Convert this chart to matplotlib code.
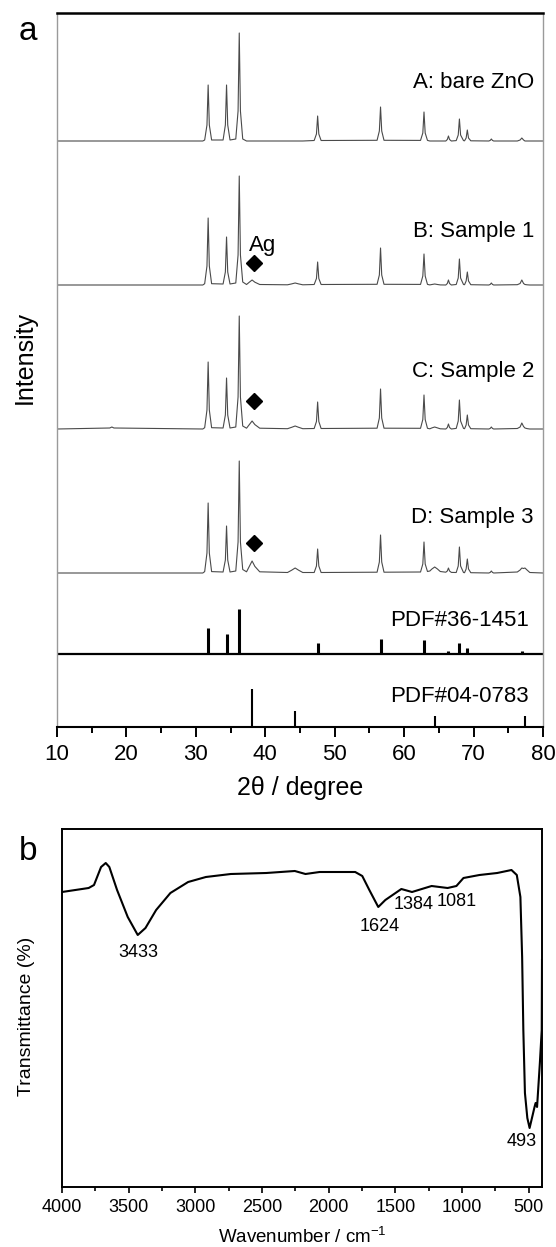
import matplotlib
matplotlib.use("Agg")
import matplotlib.pyplot as plt
import numpy as np

plt.rcParams['font.family'] = ['Liberation Sans', 'DejaVu Sans']
plt.rcParams['mathtext.fontset'] = 'custom'
plt.rcParams['mathtext.rm'] = 'Liberation Sans'
plt.rcParams['mathtext.default'] = 'regular'

# ---------------- data: XRD (panel a) ----------------
two_theta = [10.0, 17.6, 17.9, 18.2, 31.0,
             31.27, 31.6, 31.77, 31.94, 32.27,
             33.92, 34.25, 34.42, 34.59, 34.92,
             35.75, 36.08, 36.25, 36.42, 36.75,
             37.3, 37.7, 38.1, 38.5, 39.2,
             43.2, 43.8, 44.3, 44.8, 45.4,
             47.04, 47.37, 47.54, 47.71, 48.04,
             56.1, 56.43, 56.6, 56.77, 57.1,
             62.36, 62.69, 62.86, 63.03, 63.36,
             63.7, 64.0, 64.4, 64.8, 65.2,
             66.0, 66.22, 66.38, 66.54, 66.8,
             67.5, 67.79, 67.96, 68.13, 68.55,
             68.7, 68.93, 69.1, 69.27, 69.6,
             72.2, 72.4, 72.56, 72.72, 72.9,
             76.3, 76.7, 76.95, 77.2, 77.4, 77.7, 78.1,
             80.0]

int_A = [0, 0, 0, 0, 0,
         1, 16, 56, 16, 1,
         1, 16, 56, 16, 1,
         2, 30, 108, 30, 2,
         0, 0, 0, 0, 0,
         0, 0, 0, 0, 0,
         0.5, 7, 25, 7, 0.5,
         0.7, 10, 34, 10, 0.7,
         0.6, 8, 29, 8, 0.6,
         0, 0, 0, 0, 0,
         0, 1.5, 5, 1.5, 0,
         0.4, 6, 22, 6, 0.4,
         0.2, 3, 11, 3, 0.2,
         0, 0.6, 2, 0.6, 0,
         0, 1, 3, 1, 0, 0, 0,
         0]

int_B = [0, 0, 0, 0, 0,
         1.3, 19, 67, 19, 1.3,
         1, 13, 48, 13, 1,
         2, 30, 109, 30, 3,
         0.5, 2.8, 5, 2.8, 0.5,
         0.2, 1.1, 2, 1.1, 0.2,
         0.5, 6.5, 23, 6.5, 0.5,
         0.7, 10, 37, 10, 0.7,
         0.6, 9, 31, 9, 0.6,
         0.1, 0.5, 1, 0.5, 0.1,
         0, 1.5, 5, 1.5, 0,
         0.5, 7, 26, 7, 0.5,
         0.3, 4, 13, 4, 0.3,
         0, 0.6, 2, 0.6, 0,
         0.3, 1.5, 5, 1.5, 0.5, 0.2, 0,
         0]

int_C = [0, 1, 2, 1, 0,
         1.3, 19, 67, 19, 1.3,
         1, 14, 51, 14, 1,
         2, 32, 113, 32, 3,
         0.8, 4.4, 8, 4.4, 0.8,
         0.3, 1.7, 3, 1.7, 0.3,
         0.5, 7.5, 27, 7.5, 0.5,
         0.8, 11, 40, 11, 0.8,
         0.7, 9.5, 34, 9.5, 0.7,
         0.2, 1.1, 2, 1.1, 0.2,
         0, 1.5, 5, 1.5, 0,
         0.6, 8, 29, 8, 0.6,
         0.3, 4, 14, 4, 0.3,
         0, 0.6, 2, 0.6, 0,
         0.5, 2, 6, 2.5, 1, 0.4, 0,
         0]

int_D = [0, 0, 0, 0, 0,
         1.4, 20, 70, 20, 1.4,
         1, 13, 47, 13, 1,
         2, 31, 112, 31, 3.5,
         1.2, 6.6, 12, 6.6, 1.2,
         0.5, 2.8, 5, 2.8, 0.5,
         0.5, 7, 24, 7, 0.5,
         0.8, 11, 38, 11, 0.8,
         1, 9, 31, 9, 1.5,
         2, 4, 6, 4, 1.5,
         0.8, 2, 5, 2, 0.6,
         0.5, 7, 26, 7, 0.5,
         0.3, 4, 14, 4, 0.3,
         0, 0.6, 2, 0.6, 0,
         1, 3, 5, 4.5, 5, 3, 0.5,
         0]

sample_labels = ["A: bare ZnO", "B: Sample 1", "C: Sample 2", "D: Sample 3"]

# reference patterns (stick lines)
pdf_zno_pos = [31.77, 34.42, 36.25, 47.54, 56.60, 62.86, 66.38, 67.96, 69.10, 72.56, 76.95]
pdf_zno_int = [26, 20, 45, 11, 15, 14, 3, 11, 6, 1, 3]
pdf_ag_pos = [38.12, 44.30, 64.44, 77.40]
pdf_ag_int = [38, 16, 11, 11]
pdf_labels = ["PDF#36-1451", "PDF#04-0783"]

ag_marker_2theta = 38.4

# ---------------- data: FTIR (panel b) ----------------
wavenumber = [4000, 3900, 3800, 3760, 3707, 3672, 3645, 3587, 3507, 3432, 3374,
              3294, 3187, 3054, 2921, 2734, 2468, 2254, 2174, 2068, 1801, 1748,
              1695, 1628, 1575, 1455, 1375, 1228, 1108, 1042, 989, 869, 736,
              629, 589, 562, 549, 540, 528, 510, 493, 470, 456, 448, 437, 416,
              402, 400]
transmittance = [295, 297, 299, 302, 320, 324, 320, 297, 270, 252, 259,
                 277, 294, 305, 310, 313, 314, 316, 313, 315, 315, 311,
                 297, 280, 287, 298, 295, 301, 299, 301, 309, 312, 314,
                 317, 312, 290, 230, 157, 94, 69, 59, 72, 80, 84, 80, 124,
                 157, 227]
ftir_peak_labels = ["3433", "1624", "1384", "1081", "493"]
ftir_peak_wn = [3427, 1615, 1362, 1042, 549]
ftir_peak_val = [234, 260, 282, 285, 45]

# ---------------- layout / style ----------------
W, H = 556, 1247
fig = plt.figure(figsize=(W / 100, H / 100), dpi=100)

offsets = [586, 442, 298, 154]
pdf_zno_base = 73
label_y = [644, 495, 355, 209]
marker_dy = [22, 28, 30]

ax = fig.add_axes([57 / W, 1 - 727 / H, 486 / W, 714 / H])
ax.set_xlim(10, 80)
ax.set_ylim(0, 714)

tt = np.array(two_theta)
for ints, off, lab, ly in zip([int_A, int_B, int_C, int_D], offsets, sample_labels, label_y):
    ax.plot(tt, np.array(ints) + off, color='#4a4a4a', lw=0.8)
    ax.text(78.7, ly, lab, ha='right', va='center', fontsize=16)

for off, dy in zip(offsets[1:], marker_dy):
    ax.plot([ag_marker_2theta], [off + dy], marker='D', color='black', markersize=8, ls='none')
ax.text(39.6, offsets[1] + 40, "Ag", ha='center', va='center', fontsize=16)

ax.axhline(pdf_zno_base, color='black', lw=1.6)
ax.vlines(pdf_zno_pos, pdf_zno_base, pdf_zno_base + np.array(pdf_zno_int), color='black', lw=2.2)
ax.text(78.0, 107, pdf_labels[0], ha='right', va='center', fontsize=16)
ax.vlines(pdf_ag_pos, 0, np.array(pdf_ag_int), color='black', lw=1.5)
ax.text(78.0, 30, pdf_labels[1], ha='right', va='center', fontsize=16)

ax.set_xticks(np.arange(10, 81, 10))
ax.set_xticks(np.arange(15, 80, 10), minor=True)
ax.set_yticks([])
ax.tick_params(axis='x', which='major', direction='out', length=7.2, width=1.4, labelsize=16, pad=5)
ax.tick_params(axis='x', which='minor', direction='out', length=4.3, width=1.4)
for side in ['left', 'right']:
    ax.spines[side].set_color('#9a9a9a')
    ax.spines[side].set_linewidth(1.0)
ax.spines['top'].set_linewidth(1.8)
ax.spines['bottom'].set_linewidth(1.5)
ax.set_xlabel("2θ / degree", fontsize=18)
ax.xaxis.set_label_coords(0.5, (727 - 788) / 714)
ax.xaxis.label.set_va('center')
ax.set_ylabel("Intensity", fontsize=18)
ax.yaxis.set_label_coords((25 - 57) / 486, (727 - 358) / 714)
ax.yaxis.label.set_va('center')

fig.text(28 / W, 1 - 32 / H, "a", fontsize=24, ha='center', va='center')

# ---------------- panel b ----------------
bx = fig.add_axes([62 / W, 1 - 1187 / H, 480 / W, 358 / H])
bx.plot(wavenumber, transmittance, color='black', lw=1.5)
bx.set_xlim(4000, 400)
bx.set_ylim(0, 358)
bx.set_xticks(np.arange(4000, 499, -500))
bx.set_xticks(np.arange(3750, 500, -500), minor=True)
bx.set_yticks([])
bx.tick_params(axis='x', which='major', direction='out', length=4.5, width=1.2, labelsize=13, pad=4)
bx.tick_params(axis='x', which='minor', direction='out', length=3, width=1.2)
for s in bx.spines.values():
    s.set_linewidth(1.4)
for lab, wn, v in zip(ftir_peak_labels, ftir_peak_wn, ftir_peak_val):
    bx.text(wn, v, lab, ha='center', va='center', fontsize=13)
bx.set_xlabel("Wavenumber / cm$^{-1}$", fontsize=13.5)
bx.xaxis.set_label_coords(0.5, (1187 - 1237) / 358)
bx.xaxis.label.set_va('center')
bx.set_ylabel("Transmittance (%)", fontsize=14)
bx.yaxis.set_label_coords((27 - 62) / 480, (1187 - 1016) / 358)
bx.yaxis.label.set_va('center')

fig.text(28 / W, 1 - 852 / H, "b", fontsize=24, ha='center', va='center')

fig.savefig("out.png", dpi=100)
